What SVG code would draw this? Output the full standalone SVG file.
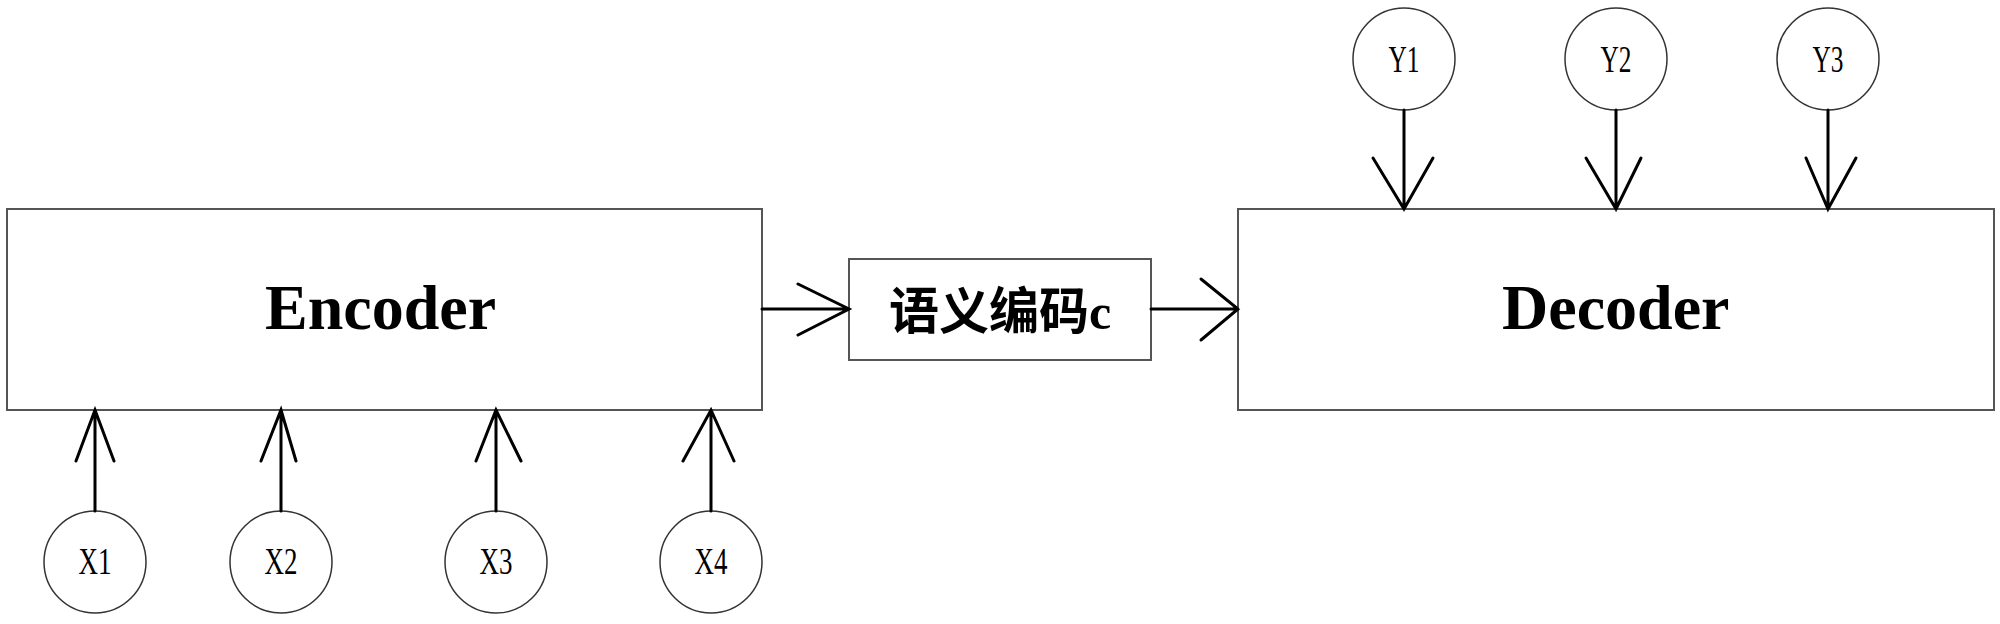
<svg xmlns="http://www.w3.org/2000/svg" width="2000" height="624" viewBox="0 0 2000 624">
<style>
.box{fill:#fff;stroke:#555;stroke-width:2}
.circ{fill:#fff;stroke:#333;stroke-width:1.5}
.ln{fill:none;stroke:#000;stroke-width:3;stroke-linecap:round;stroke-linejoin:miter}
.big{font-family:"Liberation Serif","Times New Roman",serif;font-weight:bold;font-size:64px;fill:#000}
.cjk{font-family:"Liberation Serif","Noto Sans CJK SC",serif;font-weight:bold;font-size:50px;fill:#000}
.lbl{font-family:"Liberation Serif","Times New Roman",serif;font-size:38px;fill:#000}
</style>
<rect width="2000" height="624" fill="#fff"/>
<g id="encoder">
<rect class="box" x="7" y="209" width="755" height="201"/>
<text class="big" x="265" y="329">Encoder</text>
</g>
<g id="semantic">
<rect class="box" x="849" y="259" width="302" height="101"/>
<text class="cjk" x="1000" y="329" text-anchor="middle">语义编码c</text>
</g>
<g id="decoder">
<rect class="box" x="1238" y="209" width="756" height="201"/>
<text class="big" x="1502" y="329">Decoder</text>
</g>
<g id="x1"><circle class="circ" cx="95" cy="562" r="51"/><text class="lbl" x="95" y="574" text-anchor="middle" textLength="33" lengthAdjust="spacingAndGlyphs">X1</text></g>
<g id="x2"><circle class="circ" cx="281" cy="562" r="51"/><text class="lbl" x="281" y="574" text-anchor="middle" textLength="33" lengthAdjust="spacingAndGlyphs">X2</text></g>
<g id="x3"><circle class="circ" cx="496" cy="562" r="51"/><text class="lbl" x="496" y="574" text-anchor="middle" textLength="33" lengthAdjust="spacingAndGlyphs">X3</text></g>
<g id="x4"><circle class="circ" cx="711" cy="562" r="51"/><text class="lbl" x="711" y="574" text-anchor="middle" textLength="33" lengthAdjust="spacingAndGlyphs">X4</text></g>
<g id="y1"><circle class="circ" cx="1404" cy="59" r="51"/><text class="lbl" x="1404" y="72" text-anchor="middle" textLength="31" lengthAdjust="spacingAndGlyphs">Y1</text></g>
<g id="y2"><circle class="circ" cx="1616" cy="59" r="51"/><text class="lbl" x="1616" y="72" text-anchor="middle" textLength="31" lengthAdjust="spacingAndGlyphs">Y2</text></g>
<g id="y3"><circle class="circ" cx="1828" cy="59" r="51"/><text class="lbl" x="1828" y="72" text-anchor="middle" textLength="31" lengthAdjust="spacingAndGlyphs">Y3</text></g>
<g id="connectors">
<path class="ln" d="M762 309H849M798 284L849 309L798 335"/>
<path class="ln" d="M1151 309H1238M1201 279L1238 309L1201 340"/>
<path class="ln" d="M95 511V410M76 461L95 410L114 461"/>
<path class="ln" d="M281 511V410M261 461L281 410L296 461"/>
<path class="ln" d="M496 511V410M476 461L496 410L521 461"/>
<path class="ln" d="M711 511V410M683 461L711 410L734 461"/>
<path class="ln" d="M1404 110V209M1373 158L1404 209L1433 158"/>
<path class="ln" d="M1616 110V209M1586 158L1616 209L1641 158"/>
<path class="ln" d="M1828 110V209M1806 158L1828 209L1856 158"/>
</g>
</svg>
